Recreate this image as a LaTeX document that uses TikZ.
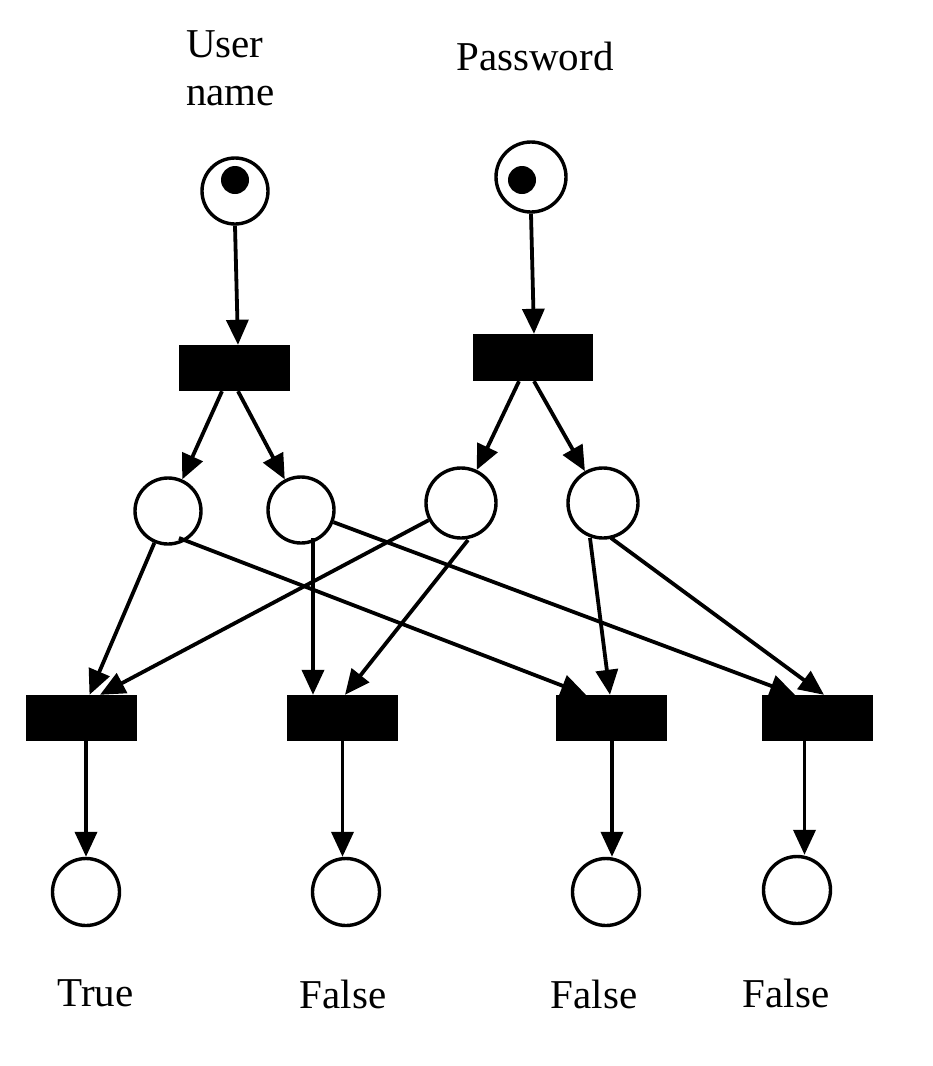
\documentclass[tikz,border=0pt]{standalone}
\usepackage{fontspec}
\setmainfont{Liberation Serif}
\usetikzlibrary{arrows.meta,calc}
\begin{document}
\begin{tikzpicture}[x=1pt,y=-1pt,
  place/.style={circle,draw,line width=3.4pt,minimum size=66pt,inner sep=0pt},
  bigplace/.style={place,minimum size=70pt},
  trans/.style={rectangle,fill=black,inner sep=0pt,minimum width=111pt,minimum height=46pt},
  tok/.style={circle,fill=black,inner sep=0pt,minimum size=28pt},
  arr/.style={line width=3.8pt,-{Triangle[length=25pt,width=22pt]}},
  lbl/.style={font=\fontsize{41}{48}\selectfont,inner sep=0pt}]
\useasboundingbox (0,0) rectangle (933,1066);
% labels
\node[lbl,anchor=base west,align=left] (lu) at (186,105) {User\\name};
\node[lbl,anchor=base] (lp) at (535,70) {Password};
% top places
\node[place] (P1) at (235,191) {};
\node[bigplace] (P2) at (531,177) {};
\node[tok] (tok1) at (235,180) {};
\node[tok] (tok2) at (522,180) {};
% top transitions
\node[trans] (T1) at (234.5,368) {};
\node[trans,minimum width=120pt,minimum height=47pt] (T2) at (533,357.5) {};
% middle places
\node[place] (m1) at (168,511) {};
\node[place] (m2) at (301,510) {};
\node[bigplace] (m3) at (461,503) {};
\node[bigplace] (m4) at (603,503) {};
% bottom transitions
\node[trans] (B1) at (81.5,718) {};
\node[trans] (B2) at (342.5,718) {};
\node[trans] (B3) at (611,718) {};
\node[trans] (B4) at (817.5,718) {};
% bottom places
\node[place,minimum size=67pt] (b1) at (86,892) {};
\node[place,minimum size=67pt] (b2) at (346,892) {};
\node[place,minimum size=67pt] (b3) at (606,892) {};
\node[place,minimum size=67pt] (b4) at (797,890) {};
% bottom labels
\node[lbl,anchor=base] (l1) at (95.5,1006) {True};
\node[lbl,anchor=base] (l2) at (343,1008) {False};
\node[lbl,anchor=base] (l3) at (594,1008) {False};
\node[lbl,anchor=base] (l4) at (786,1007) {False};
% arcs
\draw[arr] (P1.south) -- ($(T1.north)+(3.5,0)$);
\draw[arr] (P2.south) -- ($(T2.north)+(1,0)$);
\draw[arr] ($(T1.south)+(-12.5,0)$) -- (m1);
\draw[arr] ($(T1.south)+(3.5,0)$) -- (m2);
\draw[arr] ($(T2.south)+(-14,0)$) -- (m3);
\draw[arr] ($(T2.south)+(1,0)$) -- (m4);
\draw[arr] (m1) -- ($(B1.north)+(8,0)$);
\draw[arr] ($(m1)+(11,27)$) -- ($(B3.north)+(-25,0)$);
\draw[arr] ($(m2)+(12,28)$) -- ($(B2.north)+(-29.5,0)$);
\draw[arr] (m2) -- ($(B4.north)+(-22.5,0)$);
\draw[arr] (m3) -- ($(B1.north)+(18.5,0)$);
\draw[arr] ($(m3)+(7,37)$) -- ($(B2.north)+(2.5,0)$);
\draw[arr] ($(m4)+(-13,35)$) -- ($(B3.north)+(-1,0)$);
\draw[arr] ($(m4)+(8,35)$) -- ($(B4.north)+(6.5,0)$);
\coordinate (s1) at ($(B1.south)+(4.5,0)$);
\coordinate (s2) at (B2.south);
\coordinate (s3) at ($(B3.south)+(1,0)$);
\coordinate (s4) at ($(B4.south)+(-13,0)$);
\draw[arr] (s1) -- (s1 |- b1.north);
\draw[arr] (s2) -- (s2 |- b2.north);
\draw[arr] (s3) -- (s3 |- b3.north);
\draw[arr] (s4) -- (s4 |- b4.north);
\end{tikzpicture}
\end{document}
